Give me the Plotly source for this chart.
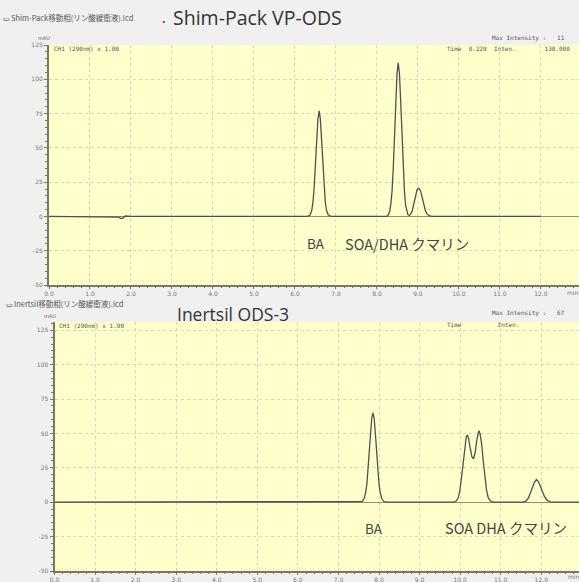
import plotly.graph_objects as go

W, H = 579, 582

# ---- data ----
top_time = [0.0, 1.60, 1.70, 1.76, 1.80, 1.86, 1.92, 2.00,
            6.31, 6.37, 6.41, 6.44, 6.47, 6.50, 6.53, 6.56, 6.59, 6.62, 6.65, 6.68, 6.71, 6.74, 6.77, 6.81, 6.88,
            8.24, 8.27, 8.31, 8.34, 8.37, 8.40, 8.43, 8.46, 8.49, 8.52, 8.55, 8.58, 8.61, 8.64, 8.67, 8.70, 8.73,
            8.76, 8.79, 8.82, 8.86, 8.90, 8.94, 8.98, 9.02, 9.06, 9.10, 9.14, 9.18, 9.22, 9.27, 9.33, 12.0]
top_mau = [0.0, 0.0, -0.5, -1.5, -1.2, 0.3, 0.0, 0.0,
           0.0, 1.0, 4.3, 10.4, 21.4, 37.5, 56.0, 71.0, 77.0, 71.0, 56.0, 37.5, 21.4, 10.5, 4.5, 1.2, 0.0,
           0.0, 0.8, 3.5, 9.0, 19.0, 36.0, 59.0, 84.0, 104.0, 112.0, 104.0, 84.0, 59.0, 36.0, 19.0, 8.0, 3.0,
           1.0, 0.8, 1.5, 4.0, 9.0, 15.0, 19.5, 20.6, 19.0, 14.5, 9.0, 4.5, 1.8, 0.5, 0.0, 0.0]

bot_time = [0.0, 7.53, 7.58, 7.63, 7.67, 7.70, 7.73, 7.76, 7.79, 7.82, 7.85, 7.88, 7.91, 7.94, 7.97, 8.00, 8.03, 8.07, 8.12, 8.18,
            9.84, 9.90, 9.95, 9.99, 10.03, 10.07, 10.11, 10.15, 10.18, 10.21, 10.25, 10.29, 10.33, 10.37, 10.41, 10.44,
            10.46, 10.49, 10.53, 10.57, 10.61, 10.65, 10.69, 10.74, 10.80,
            11.55, 11.62, 11.68, 11.73, 11.78, 11.83, 11.88, 11.93, 11.98, 12.03, 12.08, 12.14, 12.22, 12.30, 13.0]
bot_mau = [0.0, 0.0, 0.5, 2.5, 7.0, 13.0, 24.0, 37.0, 50.0, 61.0, 65.0, 61.0, 50.0, 37.0, 24.0, 13.0, 7.0, 2.5, 0.5, 0.0,
           0.0, 0.8, 3.0, 8.0, 17.0, 29.0, 40.0, 47.5, 49.0, 46.0, 39.0, 33.0, 31.5, 36.0, 45.0, 50.5,
           52.0, 50.0, 42.0, 30.0, 18.0, 9.0, 3.5, 1.0, 0.0,
           0.0, 0.8, 3.0, 6.5, 10.5, 14.5, 16.5, 15.0, 11.5, 7.5, 4.0, 1.5, 0.3, 0.0, 0.0]

x_ticks = [0, 1, 2, 3, 4, 5, 6, 7, 8, 9, 10, 11, 12]
x_tick_labels = ["0.0", "1.0", "2.0", "3.0", "4.0", "5.0", "6.0", "7.0", "8.0", "9.0", "10.0", "11.0", "12.0"]
y_ticks = [-50, -25, 0, 25, 50, 75, 100, 125]
y_tick_labels = ["-50", "-25", "0", "25", "50", "75", "100", "125"]

top_title = "Shim-Pack VP-ODS"
bot_title = "Inertsil ODS-3"
top_file = "Shim-Pack移動相(リン酸緩衝液).lcd"
bot_file = "Inertsil移動相(リン酸緩衝液).lcd"

def px(x):
    return x / W

def py(y):
    return 1 - y / H

YELLOW = "#FFFFCC"
LINE = "#505050"
AX = "#7a7a5a"
TICKF = dict(family="DejaVu Sans", size=6, color="#777777")

fig = go.Figure()
fig.add_trace(go.Scatter(x=top_time, y=top_mau, mode="lines", line=dict(color=LINE, width=1.3),
                         xaxis="x", yaxis="y", showlegend=False, hoverinfo="skip"))
fig.add_trace(go.Scatter(x=bot_time, y=bot_mau, mode="lines", line=dict(color=LINE, width=1.3),
                         xaxis="x2", yaxis="y2", showlegend=False, hoverinfo="skip"))

def xaxis(domain, anchor):
    return dict(domain=domain, anchor=anchor, range=[0, 12.93], tickvals=x_ticks, ticktext=x_tick_labels,
                tickfont=TICKF, ticks="outside", ticklen=2, tickcolor=AX, automargin=False,
                minor=dict(ticks="outside", ticklen=1, dtick=0.2, tickcolor=AX, showgrid=False),
                showgrid=True, gridcolor="#d8d8b8", griddash="dot", gridwidth=1,
                showline=True, linecolor=AX, linewidth=2, zeroline=False, fixedrange=True)

def yaxis(domain, anchor, rng):
    return dict(domain=domain, anchor=anchor, range=rng, tickvals=y_ticks, ticktext=y_tick_labels,
                tickfont=TICKF, ticks="outside", ticklen=3, tickcolor=AX, automargin=False,
                minor=dict(ticks="outside", ticklen=2, dtick=5, tickcolor=AX, showgrid=False),
                showgrid=True, gridcolor="#d8d8b8", griddash="dot", gridwidth=1,
                showline=True, linecolor=AX, linewidth=2, zeroline=True, zerolinecolor="#909070",
                zerolinewidth=1, fixedrange=True)

fig.update_layout(
    width=W, height=H,
    margin=dict(l=0, r=0, t=0, b=0, autoexpand=False),
    paper_bgcolor="#F0F0F0",
    plot_bgcolor=YELLOW,
    xaxis=xaxis([px(49), 1.0], "y"),
    yaxis=yaxis([py(285), py(45)], "x", [-50, 125]),
    xaxis2=xaxis([px(54.5), 1.0], "y2"),
    yaxis2=yaxis([py(571), py(322)], "x2", [-50, 131]),
)

ann = []
def A(text, x, y, size, color="#333333", xanchor="left", family="Noto Sans CJK JP", xref="paper", yref="paper", yanchor="middle"):
    ann.append(dict(text=text, x=x, y=y, xref=xref, yref=yref, showarrow=False,
                    font=dict(size=size, color=color, family=family), xanchor=xanchor, yanchor=yanchor))

# top panel headers
A("▭", px(1), py(18), 7, "#333333")
A(top_file, px(9), py(17), 7.5, "#555555")
A("·", px(158), py(21), 14, "#333333")
A(top_title, px(171), py(17), 19.5, "#333333", family="Open Sans")
A("mAU", px(44), py(38), 5, "#666666", xanchor="center", family="DejaVu Sans")
A("CH1 (290nm) x 1.00", px(52), py(48), 6, "#555555", family="DejaVu Sans Mono")
A("Max Intensity :   11", px(490), py(38), 6, "#555555", family="DejaVu Sans Mono")
A("Time  0.229  Inten.        130.000", px(445), py(48), 6, "#555555", family="DejaVu Sans Mono")
A("min", px(565), py(292), 6, "#777777", family="DejaVu Sans")

# bottom panel headers
A("▭", px(4), py(304), 7, "#333333")
A(bot_file, px(12), py(303), 7.5, "#555555")
A(bot_title, px(175), py(314), 17.5, "#333333", family="Open Sans")
A("mAU", px(50), py(316), 5, "#666666", xanchor="center", family="DejaVu Sans")
A("CH1 (290nm) x 1.00", px(57), py(325), 6, "#555555", family="DejaVu Sans Mono")
A("Max Intensity :   67", px(490), py(313), 6, "#555555", family="DejaVu Sans Mono")
A("Time          Inten.", px(445), py(324), 6, "#555555", family="DejaVu Sans Mono")
A("min", px(566), py(576), 6, "#777777", family="DejaVu Sans")

# peak labels
A("BA", 6.52, -19.5, 13.5, "#444444", xanchor="center", xref="x", yref="y")
A("SOA/DHA クマリン", 8.74, -19.5, 14.5, "#444444", xanchor="center", xref="x", yref="y")
A("BA", 7.87, -18.5, 13.5, "#444444", xanchor="center", xref="x2", yref="y2")
A("SOA DHA クマリン", 11.13, -18.5, 14.5, "#444444", xanchor="center", xref="x2", yref="y2")

fig.update_layout(annotations=ann)
fig.write_html("out.html", config={"displayModeBar": False},
               post_script="document.body.style.margin='0';document.body.style.overflow='hidden';")
